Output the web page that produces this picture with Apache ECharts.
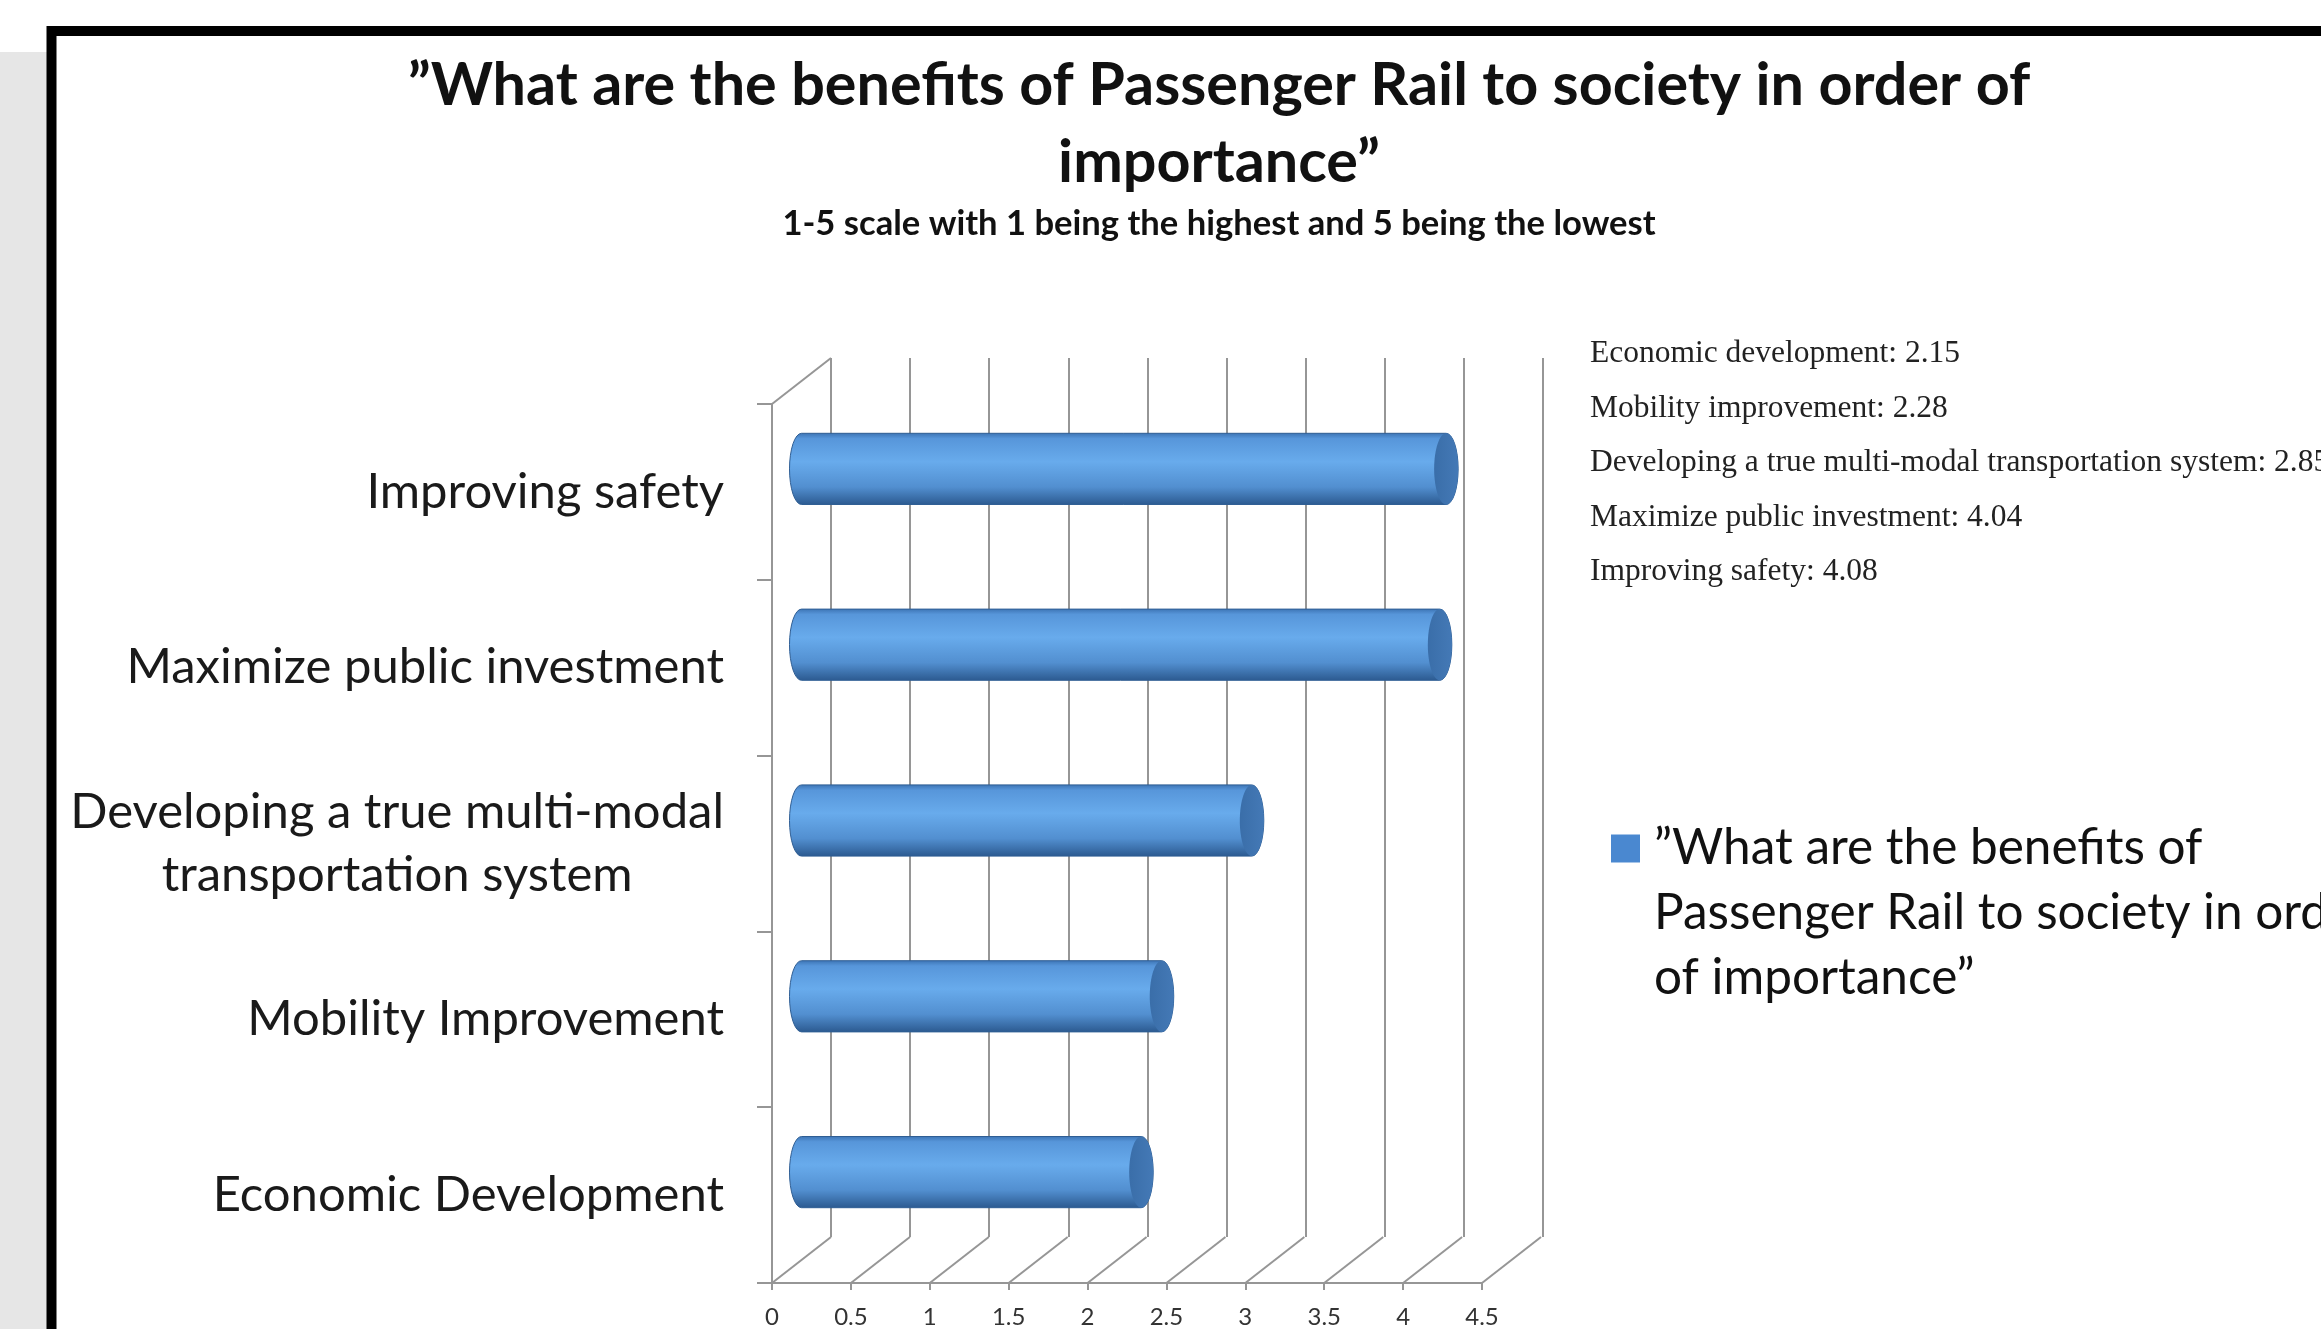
<!DOCTYPE html>
<html>
<head>
<meta charset="utf-8">
<script src="https://cdn.jsdelivr.net/npm/echarts@6/dist/echarts.min.js"></script>
<style>
  html, body { margin: 0; padding: 0; background: #fff; }
  #chart { width: 2321px; height: 1329px; }
</style>
</head>
<body>
<div id="chart"></div>
<script>
// data, bottom to top as in the sheet
var categories = [
  "Economic Development",
  "Mobility Improvement",
  "Developing a true multi-modal transportation system",
  "Maximize public investment",
  "Improving safety"
];
var scores = [2.15, 2.28, 2.85, 4.04, 4.08];
var noteNames = [
  "Economic development",
  "Mobility improvement",
  "Developing a true multi-modal transportation system",
  "Maximize public investment",
  "Improving safety"
];
var xTicks = [0, 0.5, 1, 1.5, 2, 2.5, 3, 3.5, 4, 4.5];
var seriesName = "”What are the benefits of Passenger Rail to society in order of importance”";
var titleText = "”What are the benefits of Passenger Rail to society in order of\nimportance”";
var subtitleText = "1-5 scale with 1 being the highest and 5 being the lowest";

var gridColor = "#969696";
var depthX = 59, depthY = 46;
var sans = "Lato, 'Open Sans', sans-serif";

function wrapLabel(value) {
  if (value.length <= 30) return value;
  var cut = value.lastIndexOf(" ", 30);
  return value.slice(0, cut) + "\n" + value.slice(cut + 1);
}

function renderCylinder(params, api) {
  var cat = api.value(1);
  var start = api.coord([0, cat]);
  var end = api.coord([api.value(0), cat]);
  var ry = api.size([0, 1])[1] * 0.405 / 2;
  var rx = 12;
  var x0 = start[0], x1 = end[0], yc = start[1];
  var y0 = yc - ry, y1 = yc + ry;
  var d = "M" + x0 + " " + y0 + " L" + x1 + " " + y0 +
    " A" + rx + " " + ry + " 0 0 1 " + x1 + " " + y1 +
    " L" + x0 + " " + y1 +
    " A" + rx + " " + ry + " 0 0 1 " + x0 + " " + y0 + " Z";
  return {
    type: "group",
    children: [
      {
        type: "path",
        shape: { pathData: d },
        style: {
          fill: {
            type: "linear", x: 0, y: 0, x2: 0, y2: 1,
            colorStops: [
              { offset: 0, color: "#3c73b3" },
              { offset: 0.08, color: "#5796da" },
              { offset: 0.4, color: "#68abec" },
              { offset: 0.75, color: "#528fd0" },
              { offset: 1, color: "#2b598f" }
            ]
          },
          stroke: "#2f5e94",
          lineWidth: 1
        }
      },
      {
        type: "ellipse",
        shape: { cx: x1, cy: yc, rx: rx, ry: ry },
        style: {
          fill: {
            type: "linear", x: 0, y: 0, x2: 1, y2: 0,
            colorStops: [
              { offset: 0, color: "#3a6ea9" },
              { offset: 1, color: "#4479b6" }
            ]
          }
        }
      }
    ]
  };
}

function renderFloor(params, api) {
  var p = api.coord([api.value(0), 0]);
  var cs = params.coordSys;
  var base = cs.y + cs.height;
  var kids = [{
    type: "line",
    shape: { x1: p[0], y1: base, x2: p[0] + depthX, y2: base - depthY },
    style: { stroke: gridColor, lineWidth: 2 }
  }];
  if (params.dataIndex === 0) {
    kids.push({
      type: "line",
      shape: { x1: cs.x, y1: cs.y, x2: cs.x + depthX, y2: cs.y - depthY },
      style: { stroke: gridColor, lineWidth: 2 }
    });
  }
  return { type: "group", children: kids };
}

var chart = echarts.init(document.getElementById("chart"));

var option = {
  backgroundColor: "#ffffff",
  animation: false,
  graphic: [
    { type: "rect", shape: { x: 0, y: 52, width: 47, height: 1277 }, style: { fill: "#e6e6e6" } },
    { type: "rect", shape: { x: 51.5, y: 31, width: 2400, height: 1400 }, style: { fill: null, stroke: "#000", lineWidth: 10 } },
    {
      type: "text", x: 1219, y: 47,
      style: { text: titleText, align: "center", verticalAlign: "top", fontFamily: sans,
        fontSize: 59.3, fontWeight: "bold", fill: "#111", lineHeight: 77 }
    },
    {
      type: "text", x: 1219, y: 224,
      style: { text: subtitleText, align: "center", verticalAlign: "middle", fontFamily: sans,
        fontSize: 34.6, fontWeight: "bold", fill: "#111" }
    }
  ],
  title: {
    text: noteNames.map(function (n, i) { return n + ": " + scores[i].toFixed(2); }).join("\n"),
    left: 1590,
    top: 327,
    padding: 0,
    textStyle: { fontFamily: "'Liberation Serif', serif", fontSize: 31.5, fontWeight: "normal", color: "#222", lineHeight: 54.4 }
  },
  legend: {
    left: 1611,
    top: 686,
    padding: 0,
    itemWidth: 29,
    itemHeight: 28,
    icon: "rect",
    data: [{ name: seriesName, itemStyle: { color: "#4a88d0" } }],
    formatter: function (name) {
      // two empty lines above keep the square level with the first line
      return "\n\n" + name.replace(" of Passenger", " of\nPassenger").replace(" of importance", "\nof importance");
    },
    textStyle: { fontFamily: sans, fontSize: 49.5, color: "#111", lineHeight: 65, padding: [0, 0, 0, 9] }
  },
  grid: [
    { left: 772, top: 404, width: 710, height: 879 },   // front
    { left: 831, top: 358, width: 712, height: 879 },   // back wall
    { left: 801.5, top: 381, width: 711, height: 879 }  // bars at mid depth
  ],
  xAxis: [
    {
      gridIndex: 0, type: "value", min: 0, max: 4.5, interval: 0.5,
      axisLine: { show: true, lineStyle: { color: gridColor, width: 2 } },
      axisTick: { show: true, length: 7, lineStyle: { color: gridColor, width: 2 } },
      splitLine: { show: false },
      axisLabel: { margin: 22, fontFamily: sans, fontSize: 24, color: "#333",
        formatter: function (v) { return String(v); }, customValues: xTicks }
    },
    {
      gridIndex: 1, type: "value", min: 0, max: 4.5, interval: 0.5,
      axisLine: { show: false }, axisTick: { show: false }, axisLabel: { show: false },
      splitLine: { show: true, lineStyle: { color: gridColor, width: 2 } }
    },
    { gridIndex: 2, type: "value", min: 0, max: 4.5, interval: 0.5, show: false }
  ],
  yAxis: [
    {
      gridIndex: 0, type: "category", data: categories,
      axisLine: { show: true, lineStyle: { color: gridColor, width: 2 } },
      axisTick: { show: true, length: 15, lineStyle: { color: gridColor, width: 2 } },
      splitLine: { show: false },
      axisLabel: {
        margin: 48,
        formatter: function (v) {
          return wrapLabel(v).split("\n").map(function (s) { return "{c|" + s + "}"; }).join("\n");
        },
        rich: { c: { align: "center", fontFamily: sans, fontSize: 49, lineHeight: 63, color: "#1a1a1a" } }
      }
    },
    { gridIndex: 1, type: "category", data: categories, show: false },
    { gridIndex: 2, type: "category", data: categories, show: false }
  ],
  series: [
    {
      type: "custom",
      silent: true,
      xAxisIndex: 0, yAxisIndex: 0,
      renderItem: renderFloor,
      clip: false,
      data: xTicks.map(function (v) { return [v, 0]; }),
      encode: { x: 0, y: 1 }
    },
    {
      name: seriesName,
      type: "custom",
      xAxisIndex: 2, yAxisIndex: 2,
      renderItem: renderCylinder,
      clip: false,
      itemStyle: { color: "#4a88d0" },
      data: scores.map(function (v, i) { return [v, i]; }),
      encode: { x: 0, y: 1 }
    }
  ]
};

chart.setOption(option);
</script>
</body>
</html>
